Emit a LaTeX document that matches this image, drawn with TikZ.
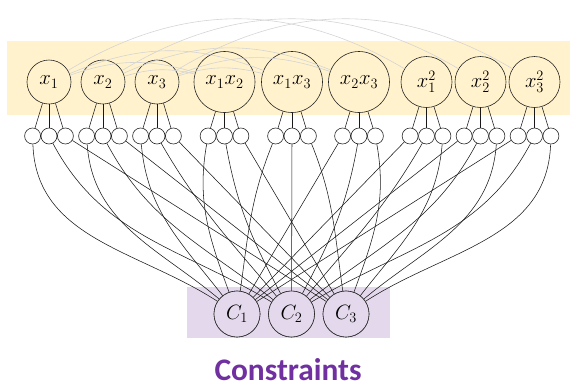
\documentclass[tikz,border=0pt]{standalone}
\usepackage{fontspec}
\newfontfamily\labelfont{Carlito}
\definecolor{bandyellow}{HTML}{FFF2CC}
\definecolor{bandpurple}{HTML}{E4D9EC}
\definecolor{titlepurple}{HTML}{7030A0}
\definecolor{arcgray}{HTML}{D4D4D4}
\tikzset{
  varnode/.style={circle,draw=black!85,line width=0.6bp,fill=bandyellow,inner sep=0pt,font=\fontsize{21}{23}\selectfont},
  smallnode/.style={circle,draw=black!85,line width=0.6bp,fill=white,inner sep=0pt,minimum size=16bp},
  connode/.style={circle,draw=black!85,line width=0.6bp,fill=bandpurple,inner sep=0pt,minimum size=46bp,font=\fontsize{21}{23}\selectfont},
  link/.style={draw=black!90,line width=0.55bp},
  toparc/.style={draw=arcgray,line width=0.6bp}
}
\begin{document}
\begin{tikzpicture}[x=1bp,y=1bp]
\useasboundingbox (0,0) rectangle (570,-385);
% bands
\fill[bandyellow] (7,-41) rectangle (570,-115);
\fill[bandpurple] (187,-287) rectangle (390,-338);
% variable nodes
\node[varnode,minimum size=44bp] (v1) at (49,-82) {$x_1$};
\node[varnode,minimum size=44bp] (v2) at (103,-82) {$x_2$};
\node[varnode,minimum size=44bp] (v3) at (157,-82) {$x_3$};
\node[varnode,minimum size=61bp] (v12) at (224.5,-82) {$x_1x_2$};
\node[varnode,minimum size=61bp] (v13) at (292,-82) {$x_1x_3$};
\node[varnode,minimum size=61bp] (v23) at (359,-82) {$x_2x_3$};
\node[varnode,minimum size=51bp] (s1) at (426.5,-82) {$x_1^2$};
\node[varnode,minimum size=51bp] (s2) at (480.5,-82) {$x_2^2$};
\node[varnode,minimum size=51bp] (s3) at (534.5,-82) {$x_3^2$};
% gray arcs
\draw[toparc] (v1) to[bend left=18] (v12);
\draw[toparc] (v2) to[bend left=15] (v12);
\draw[toparc] (v1) to[bend left=22] (v13);
\draw[toparc] (v3) to[bend left=16] (v13);
\draw[toparc] (v2) to[bend left=23] (v23);
\draw[toparc] (v3) to[bend left=20] (v23);
\draw[toparc] (v1) to[bend left=31] (s1);
\draw[toparc] (v2) to[bend left=31] (s2);
\draw[toparc] (v3) to[bend left=31] (s3);
% constraint nodes
\node[connode] (c1) at (237,-314) {$C_1$};
\node[connode] (c2) at (291.5,-314) {$C_2$};
\node[connode] (c3) at (346,-314) {$C_3$};
% small nodes
\foreach \v/\x in {v1/49,v2/103,v3/157,v12/224.5,v13/292,v23/359,s1/426.5,s2/480.5,s3/534.5}{
  \node[smallnode] (\v a) at (\x-16.4,-136) {};
  \node[smallnode] (\v b) at (\x,-136) {};
  \node[smallnode] (\v c) at (\x+16.4,-136) {};
  \draw[link] (\v) -- (\v a);
  \draw[link] (\v) -- (\v b);
  \draw[link] (\v) -- (\v c);
}
% links to constraints
\foreach \s/\t/\o/\i in {
  v1a/c1/-88/147, v1b/c2/-62/149,
  v2a/c1/-86/140, v2b/c2/-62/142,
  v3a/c1/-85/128, v3b/c2/-60/130,
  v12a/c1/-100/110, v12b/c2/-80/118,
  v13a/c1/-112/82, v13c/c3/-68/98,
  v23c/c3/-80/70, v23b/c2/-100/62,
  s1c/c3/-95/52, s1b/c2/-120/50,
  s2c/c3/-94/40, s2b/c2/-118/38,
  s3c/c3/-92/33, s3b/c2/-118/31}{
  \draw[link] (\s) to[out=\o,in=\i] (\t);
}
\foreach \s/\t in {v1c/c3, v2c/c3, v3c/c3, v12c/c3, v13b/c2, v23a/c1, s1a/c1, s2a/c1, s3a/c1}{
  \draw[link] (\s) -- (\t);
}
% redraw constraint nodes on top
\node[connode] at (c1) {$C_1$};
\node[connode] at (c2) {$C_2$};
\node[connode] at (c3) {$C_3$};
% title
\node[font=\labelfont\bfseries\fontsize{31.5}{33}\selectfont,text=titlepurple,anchor=base,inner sep=0pt] (title) at (288,-380) {Constraints};
\end{tikzpicture}
\end{document}
